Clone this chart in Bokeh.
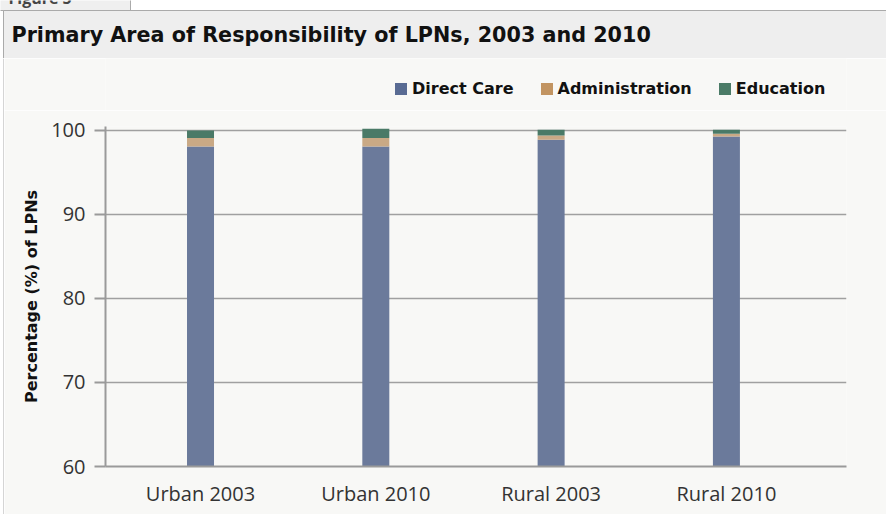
from bokeh.plotting import figure
from bokeh.models import Range1d, FixedTicker, Legend, LegendItem, ColumnDataSource
from bokeh.layouts import column, row
from bokeh.core.properties import value
from bokeh.embed import file_html
from bokeh.resources import INLINE

# ---- data ----
categories = ["Urban 2003", "Urban 2010", "Rural 2003", "Rural 2010"]
direct_care = [98.1, 98.1, 98.9, 99.3]
administration = [1.0, 1.0, 0.5, 0.3]
education = [0.9, 1.1, 0.7, 0.5]
series = ["Direct Care", "Administration", "Education"]
bar_colors = ["#6b7a9b", "#c9a985", "#4a7a67"]
legend_colors = ["#596b93", "#c29461", "#4b7b67"]
y_ticks = [60, 70, 80, 90, 100]
title_text = "Primary Area of Responsibility of LPNs, 2003 and 2010"
y_title = "Percentage (%) of LPNs"

FONT = "Open Sans"
BFONT = "DejaVu Sans"
BG = "#f8f8f6"

# ---- header (tab + title bar) ----
h = figure(width=886, height=58, x_range=Range1d(0, 886), y_range=Range1d(58, 0),
           output_backend="svg", toolbar_location=None, min_border=0,
           background_fill_color="white", border_fill_color="white",
           outline_line_color=None)
h.axis.visible = False
h.grid.visible = False
h.quad(left=[-2], right=[130], top=[-5], bottom=[10], fill_color="#efefef",
       line_color="#aaaaaa", line_width=1)
h.text(x=[8], y=[-3], text=["Figure 5"], text_font=value(FONT), text_font_size="16px",
       text_font_style="bold", text_color="#444444", text_baseline="alphabetic")
h.quad(left=[3], right=[890], top=[10], bottom=[58.5], fill_color="#eeeeee",
       line_color="#aaaaaa", line_width=1)
h.text(x=[11], y=[34], text=[title_text], text_font=value(BFONT), text_font_size="20.7px",
       text_font_style="bold", text_color="#111111", text_baseline="middle")

# ---- left border strip ----
s = figure(width=4, height=456, x_range=Range1d(0, 4), y_range=Range1d(0, 1),
           output_backend="svg", toolbar_location=None, min_border=0,
           background_fill_color="white", border_fill_color="white",
           outline_line_color=None)
s.axis.visible = False
s.grid.visible = False
s.segment(x0=[3.5], y0=[0], x1=[3.5], y1=[1], line_color="#aaaaaa", line_width=1)

# ---- legend strip ----
lf = figure(width=882, height=52, x_range=Range1d(0, 10), y_range=Range1d(0, 10),
            output_backend="svg", toolbar_location=None, min_border=0,
            background_fill_color=BG, border_fill_color=BG, outline_line_color=None)
lf.axis.visible = False
lf.grid.visible = False
lrs = [lf.vbar(x=[-100], top=[-100], bottom=[-101], width=1, fill_color=c, line_color=None)
       for c in legend_colors]
legend = Legend(items=[LegendItem(label=n, renderers=[r]) for n, r in zip(series, lrs)],
                orientation="horizontal", location=(288, 12), margin=0, padding=0,
                spacing=25, glyph_width=15, glyph_height=15, label_standoff=4,
                label_height=15, label_text_font=BFONT, label_text_font_size="16px",
                label_text_font_style="bold", label_text_color="#111111",
                background_fill_alpha=0, border_line_color=None)
lf.add_layout(legend, "center")

# ---- main chart ----
xs = list(range(len(categories)))
src = ColumnDataSource(dict(x=xs, dc=direct_care, ad=administration, ed=education))

p = figure(width=882, height=404, x_range=Range1d(-0.542, 3.685), y_range=Range1d(60, 100.476),
           output_backend="svg", toolbar_location=None,
           min_border_left=101, min_border_right=40, min_border_top=16, min_border_bottom=48,
           background_fill_color=BG, border_fill_color=BG,
           outline_line_color=None)

p.vbar_stack(["dc", "ad", "ed"], x="x", width=0.154, source=src,
             color=bar_colors, line_color=None)

p.yaxis.ticker = FixedTicker(ticks=y_ticks)
p.yaxis.minor_tick_line_color = None
p.yaxis.major_tick_in = 0
p.yaxis.major_tick_out = 11
p.yaxis.major_tick_line_color = "#9a9a9a"
p.yaxis.major_tick_line_width = 2
p.yaxis.axis_line_color = "#9a9a9a"
p.yaxis.axis_line_width = 2
p.yaxis.major_label_text_font = FONT
p.yaxis.major_label_text_font_size = "20px"
p.yaxis.major_label_text_color = "#333333"
p.yaxis.major_label_standoff = 9
p.yaxis.axis_label = y_title
p.yaxis.axis_label_text_font = BFONT
p.yaxis.axis_label_text_font_size = "16px"
p.yaxis.axis_label_text_font_style = "bold"
p.yaxis.axis_label_text_color = "#111111"
p.yaxis.axis_label_standoff = 7

p.xaxis.ticker = FixedTicker(ticks=xs)
p.xaxis.major_label_overrides = {i: c for i, c in zip(xs, categories)}
p.xaxis.minor_tick_line_color = None
p.xaxis.major_tick_line_color = None
p.xaxis.axis_line_color = "#9a9a9a"
p.xaxis.axis_line_width = 2
p.xaxis.major_label_text_font = FONT
p.xaxis.major_label_text_font_size = "20px"
p.xaxis.major_label_text_color = "#333333"
p.xaxis.major_label_standoff = 7

p.xgrid.grid_line_color = None
p.ygrid.ticker = FixedTicker(ticks=y_ticks)
p.ygrid.grid_line_color = "#a0a0a0"
p.ygrid.grid_line_width = 1.5

layout = column(h, row(s, column(lf, p)))
open("out.html", "w").write(file_html(layout, INLINE))
